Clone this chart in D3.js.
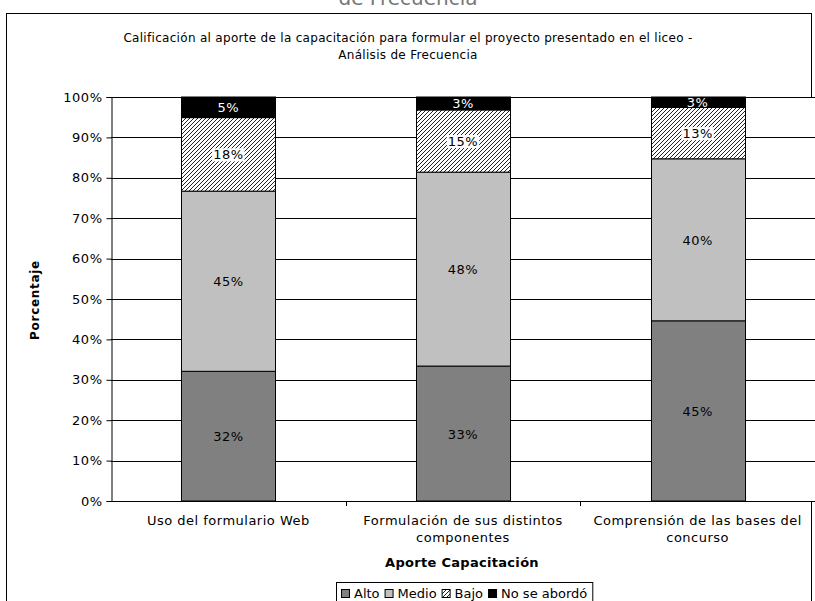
<!DOCTYPE html>
<html>
<head>
<meta charset="utf-8">
<script src="https://cdn.jsdelivr.net/npm/d3@7"></script>
<style>
  body { margin: 0; background: #fff; }
  svg { display: block; font-family: "DejaVu Sans", Verdana, sans-serif; }
</style>
</head>
<body>
<div id="chart"></div>
<script>
// datos (porcentajes)
const categories = ["Uso del formulario Web", "Formulación de sus distintos componentes", "Comprensión de las bases del concurso"];
const categoryLines = [["Uso del formulario Web"], ["Formulación de sus distintos", "componentes"], ["Comprensión de las bases del", "concurso"]];
const seriesNames = ["Alto", "Medio", "Bajo", "No se abordó"];
const alto = [32.1, 33.4, 44.6];
const medio = [44.6, 48.0, 40.1];
const bajo = [18.2, 15.4, 12.7];
const noAbordo = [5.1, 3.2, 2.6];
const yTicks = [0, 10, 20, 30, 40, 50, 60, 70, 80, 90, 100];

const W = 815, H = 601;
const plot = { left: 111, right: 815, top: 97, bottom: 501 };
const LS = 0.5; // espaciado para imitar Verdana

const rows = categories.map((c, i) => ({
  cat: c, "Alto": alto[i], "Medio": medio[i], "Bajo": bajo[i], "No se abordó": noAbordo[i]
}));
const stacked = d3.stack().keys(seriesNames)(rows);

const fills = { "Alto": "#808080", "Medio": "#c0c0c0", "Bajo": "url(#hatch)", "No se abordó": "#000" };

const svg = d3.select("#chart").append("svg").attr("width", W).attr("height", H);

// patrón de rayas diagonales
const defs = svg.append("defs");
const pat = defs.append("pattern")
  .attr("id", "hatch").attr("patternUnits", "userSpaceOnUse")
  .attr("width", 4).attr("height", 4);
pat.append("rect").attr("width", 4).attr("height", 4).attr("fill", "#fff");
pat.append("path").attr("d", "M-1,1 l2,-2 M0,4 l4,-4 M3,5 l2,-2")
  .attr("stroke", "#222").attr("stroke-width", 1);

// título cortado arriba
svg.append("text").attr("x", 408).attr("y", 5)
  .attr("text-anchor", "middle").attr("font-size", 20).attr("fill", "#777")
  .text("de Frecuencia");

// marco del área del gráfico
svg.append("rect").attr("x", 6.5).attr("y", 13.5).attr("width", 805).attr("height", 600)
  .attr("fill", "#fff").attr("stroke", "#000").attr("stroke-width", 1);

// título
const title = svg.append("text").attr("text-anchor", "middle").attr("font-size", 12)
  .attr("letter-spacing", 0.3).attr("fill", "#000");
title.append("tspan").attr("x", 408).attr("y", 42).text("Calificación al aporte de la capacitación para formular el proyecto presentado en el liceo -");
title.append("tspan").attr("x", 408).attr("y", 59).text("Análisis de Frecuencia");

const x = d3.scaleBand().domain(categories).range([plot.left, plot.right])
  .paddingInner(0.6).paddingOuter(0.3);
const y = d3.scaleLinear().domain([0, 100]).range([plot.bottom, plot.top]);

// área de trazado
svg.append("rect").attr("x", plot.left).attr("y", plot.top)
  .attr("width", plot.right - plot.left).attr("height", plot.bottom - plot.top)
  .attr("fill", "#fff");

// líneas de división
svg.append("g").selectAll("line").data(yTicks.filter(d => d > 0)).join("line")
  .attr("x1", plot.left).attr("x2", plot.right)
  .attr("y1", d => Math.round(y(d)) + 0.5).attr("y2", d => Math.round(y(d)) + 0.5)
  .attr("stroke", "#000").attr("stroke-width", 1);

// eje Y
const yAxis = svg.append("g").attr("transform", `translate(${plot.left + 0.5},0)`)
  .call(d3.axisLeft(y).tickValues(yTicks).tickFormat(d => d + "%").tickSize(5).tickPadding(4));
yAxis.select(".domain").attr("stroke", "#000");
yAxis.selectAll(".tick line").attr("stroke", "#000");
yAxis.selectAll(".tick text").attr("font-size", 13).attr("fill", "#000")
  .attr("letter-spacing", LS)
  .attr("font-family", "DejaVu Sans, Verdana, sans-serif");

// barras apiladas
const layer = svg.append("g").selectAll("g").data(stacked).join("g")
  .attr("fill", d => fills[d.key]);
layer.selectAll("rect").data(d => d).join("rect")
  .attr("x", d => Math.round(x(d.data.cat)) + 0.5)
  .attr("y", d => y(d[1]))
  .attr("width", Math.round(x.bandwidth()))
  .attr("height", d => y(d[0]) - y(d[1]))
  .attr("stroke", "#000").attr("stroke-width", 1);

// etiquetas de datos
stacked.forEach(s => {
  s.forEach(d => {
    const cx = x(d.data.cat) + x.bandwidth() / 2;
    const cy = (y(d[0]) + y(d[1])) / 2;
    const g = svg.append("g");
    const t = g.append("text").attr("x", cx).attr("y", cy + 5)
      .attr("text-anchor", "middle").attr("font-size", 13).attr("letter-spacing", LS)
      .attr("fill", s.key === "No se abordó" ? "#fff" : "#000")
      .text(Math.round(d[1] - d[0]) + "%");
    if (s.key === "Bajo") {
      const bb = t.node().getBBox();
      g.insert("rect", "text").attr("x", bb.x - 1).attr("y", bb.y + 1)
        .attr("width", bb.width + 2).attr("height", bb.height - 2).attr("fill", "#fff");
    }
  });
});

// eje X
svg.append("line").attr("x1", plot.left).attr("x2", plot.right)
  .attr("y1", plot.bottom + 0.5).attr("y2", plot.bottom + 0.5).attr("stroke", "#000");
svg.append("g").selectAll("line").data(categories.slice(1)).join("line")
  .attr("x1", d => Math.round(x(d) - x.step() * x.paddingInner() / 2) + 0.5)
  .attr("x2", d => Math.round(x(d) - x.step() * x.paddingInner() / 2) + 0.5)
  .attr("y1", plot.bottom).attr("y2", plot.bottom + 5).attr("stroke", "#000");

// etiquetas de categorías
categories.forEach((c, i) => {
  const t = svg.append("text").attr("text-anchor", "middle").attr("font-size", 13)
    .attr("letter-spacing", LS).attr("fill", "#000");
  categoryLines[i].forEach((ln, j) => {
    t.append("tspan").attr("x", x(c) + x.bandwidth() / 2).attr("y", 525 + j * 17).text(ln);
  });
});

// títulos de ejes
svg.append("text").attr("x", 462).attr("y", 567)
  .attr("text-anchor", "middle").attr("font-size", 13).attr("font-weight", "bold")
  .attr("letter-spacing", 0.3).text("Aporte Capacitación");
svg.append("text").attr("transform", "translate(39,300) rotate(-90)")
  .attr("text-anchor", "middle").attr("font-size", 12).attr("font-weight", "bold")
  .attr("letter-spacing", 0.7).text("Porcentaje");

// leyenda
const lg = svg.append("g");
const lgBox = lg.append("rect").attr("y", 582.5).attr("height", 30)
  .attr("fill", "#fff").attr("stroke", "#000");
let lx = 341;
seriesNames.forEach(name => {
  lg.append("rect").attr("x", lx + 0.5).attr("y", 589.5).attr("width", 8).attr("height", 8)
    .attr("fill", fills[name]).attr("stroke", "#000");
  const t = lg.append("text").attr("x", lx + 13).attr("y", 598).attr("font-size", 13).text(name);
  lx += 13 + t.node().getComputedTextLength() + 5;
});
lgBox.attr("x", 336.5).attr("width", lx - 336);
</script>
</body>
</html>
